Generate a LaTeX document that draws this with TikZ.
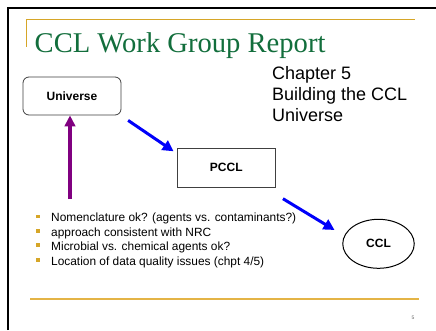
\documentclass[tikz,border=0pt]{standalone}
\usepackage{fontspec}
\setmainfont{Liberation Sans}
\newfontfamily\titlefont{Liberation Serif}
\usetikzlibrary{arrows.meta,shapes.geometric}
\definecolor{slidegreen}{RGB}{18,110,60}
\definecolor{slidegold}{RGB}{214,166,40}
\definecolor{rulegold}{RGB}{228,180,70}
\definecolor{arrowblue}{RGB}{0,0,250}
\definecolor{arrowpurple}{RGB}{128,0,128}
\begin{document}
\begin{tikzpicture}[x=1pt,y=-1pt,
  boxlabel/.style={font=\bfseries\fontsize{12}{14}\selectfont},
  flow/.style={arrowblue,line width=3pt,-{Triangle[length=11pt,width=11pt]}},
  feedback/.style={arrowpurple,line width=3.3pt,-{Triangle[length=11pt,width=10.5pt]}},
  bulletitem/.style={anchor=base west,inner sep=0pt,font=\fontsize{11.9}{13}\selectfont},
  bulletmark/.style={fill=slidegold,minimum size=3.8pt,inner sep=0pt}]
  \useasboundingbox (0,0) rectangle (436,330);
  \fill[white] (0,0) rectangle (436,330);
  % slide frame
  \draw[black,line width=2.4pt] (7.8,330) -- (7.8,7.8) -- (436,7.8);
  % title rules
  \draw[slidegold,line width=1.1pt] (26.5,46.5) -- (26.5,19.5) -- (415,19.5);
  \draw[rulegold,line width=1.8pt] (30,299.2) -- (419,299.2);
  % title
  \node[anchor=base west,inner sep=0pt,text=slidegreen,font=\titlefont\fontsize{28.6}{30}\selectfont] (title) at (34.5,52) {CCL Work Group Report};
  % chapter caption
  \node[anchor=north west,align=left,inner sep=0pt,font=\fontsize{18}{21.3}\selectfont] (chapter) at (272,66) {Chapter 5\\Building the CCL\\Universe};
  % diagram nodes
  \node[boxlabel,draw=black!75,rounded corners=6pt,line width=0.8pt,minimum width=98pt,minimum height=38pt] (universe) at (72,96) {Universe};
  \node[boxlabel,draw=black!75,line width=0.8pt,minimum width=98.5pt,minimum height=39pt] (pccl) at (226.3,167.8) {PCCL};
  \node[boxlabel,draw=black,ellipse,line width=1pt,minimum width=71.5pt,minimum height=49pt] (ccl) at (378.5,243.8) {CCL};
  % connectors
  \draw[flow] ([shift={(6.7,5)}]universe.south east) -- ([shift={(-3,3.4)}]pccl.north west);
  \draw[flow] ([shift={(7,11)}]pccl.south east) -- ([shift={(-7.7,-13.8)}]ccl.west);
  \coordinate (source) at (70,199);
  \draw[feedback] (source) -- (source |- universe.south);
  % discussion points
  \foreach \txt [count=\i] in {Nomenclature ok? (agents vs. contaminants?),
      approach consistent with NRC,
      Microbial vs. chemical agents ok?,
      Location of data quality issues (chpt 4/5)} {
    \node[bulletmark] (mark\i) at (38,{202+14.45*\i}) {};
    \node[bulletitem] (item\i) at (51,{207.2+14.45*\i}) {\txt};
  }
  % page number
  \node[inner sep=0pt,text=black!60,font=\fontsize{5}{6}\selectfont] (page) at (413,318) {5};
\end{tikzpicture}
\end{document}
